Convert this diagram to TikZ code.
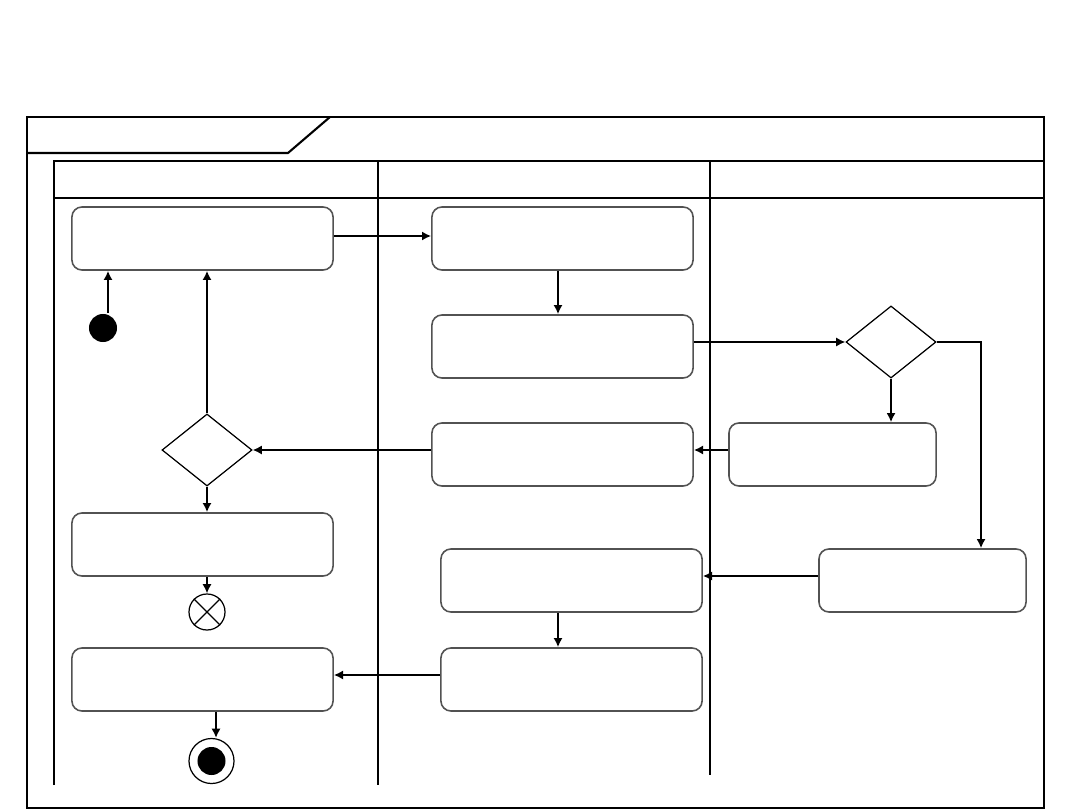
\documentclass[tikz,border=0pt]{standalone}
\usetikzlibrary{shapes.geometric,arrows.meta}

\begin{document}
\begin{tikzpicture}[x=0.01cm, y=-0.01cm, line width=0.6pt,
  action/.style={draw=black!68, line width=0.45pt, rounded corners=0.1cm,
    minimum width=2.61cm, minimum height=0.63cm, inner sep=0pt},
  smallaction/.style={action, minimum width=2.07cm},
  choice/.style={draw, diamond, line width=0.35pt, inner sep=0pt,
    minimum width=0.9cm, minimum height=0.72cm},
  flow/.style={-{Latex[length=2.6pt,width=2.6pt]}, line width=0.6pt}]
  \useasboundingbox (0,0) rectangle (1080,810);

  % 外框与标题栏
  \draw (27,117) rectangle (1044,808);
  \draw (27,153) -- (288,153) -- (330,117);

  % 泳道
  \draw (54,785) -- (54,161) -- (1044,161);
  \draw (54,198) -- (1044,198);
  \draw (378,161) -- (378,785);
  \draw (710,161) -- (710,775);

  % 活动
  \node[action] (A1) at (202.5,238.5) {};
  \node[action] (B1) at (562.5,238.5) {};
  \node[action] (B2) at (562.5,346.5) {};
  \node[action] (B3) at (562.5,454.5) {};
  \node[smallaction] (C1) at (832.5,454.5) {};
  \node[action] (A2) at (202.5,544.5) {};
  \node[action] (B4) at (571.5,580.5) {};
  \node[smallaction] (C2) at (922.5,580.5) {};
  \node[action] (A3) at (202.5,679.5) {};
  \node[action] (B5) at (571.5,679.5) {};

  % 判断
  \node[choice] (D1) at (891,342) {};
  \node[choice] (D2) at (207,450) {};

  % 初始、流终止、活动终止
  \node[circle, fill=black, minimum size=0.28cm, inner sep=0pt] (start) at (103,328) {};
  \node[circle, draw, line width=0.35pt, minimum size=0.36cm, inner sep=0pt] (stop) at (207,612) {};
  \draw[line width=0.35pt] (stop.north east) -- (stop.south west)
                            (stop.north west) -- (stop.south east);
  \node[circle, draw, line width=0.35pt, minimum size=0.45cm, inner sep=0pt] (final) at (211.5,761) {};
  \node[circle, fill=black, minimum size=0.28cm, inner sep=0pt] at (final) {};

  % 控制流
  \draw[flow] ([xshift=0.05cm]start.north) -- ([xshift=0.05cm]start.north |- A1.south);
  \draw[flow] (D2.north) -- (D2.north |- A1.south);
  \draw[flow] ([yshift=0.025cm]A1.east) -- ([yshift=0.025cm]B1.west);
  \draw[flow] ([xshift=-0.045cm]B1.south) -- ([xshift=-0.045cm]B2.north);
  \draw[flow] (B2.east |- D1.west) -- (D1.west);
  \draw[flow] (D1.south) -- (D1.south |- C1.north);
  \draw[flow] (D1.east) -| (C2.north -| 981,0);
  \draw[flow] (C1.west |- D2.east) -- (B3.east |- D2.east);
  \draw[flow] (B3.west |- D2.east) -- (D2.east);
  \draw[flow] (D2.south) -- (D2.south |- A2.north);
  \draw[flow] ([yshift=0.045cm]C2.west) -- ([yshift=0.045cm]B4.east);
  \draw[flow] ([xshift=-0.135cm]B4.south) -- ([xshift=-0.135cm]B5.north);
  \draw[flow] ([yshift=0.045cm]B5.west) -- ([yshift=0.045cm]A3.east);
  \draw[flow] (A2.south -| stop.north) -- (stop.north);
  \draw[flow] ([xshift=0.135cm]A3.south) -- ([xshift=0.135cm]A3.south |- final.north);
\end{tikzpicture}
\end{document}
